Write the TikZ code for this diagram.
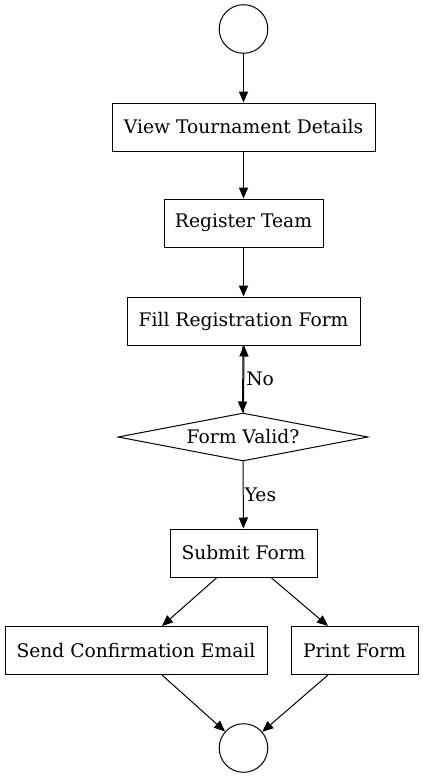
\documentclass[tikz,border=0pt]{standalone}
\usepackage{fontspec}
\setmainfont{DejaVu Serif}
\usetikzlibrary{shapes.geometric,arrows.meta}
\begin{document}
\begin{tikzpicture}[x=0.5pt,y=-0.5pt,
  every node/.style={font=\fontsize{9.35}{11}\selectfont, inner sep=0pt},
  box/.style={draw, line width=0.5pt, rectangle, minimum height=24pt},
  term/.style={draw, line width=0.5pt, circle, minimum size=24.3pt},
  dec/.style={draw, line width=0.5pt, diamond, aspect=5.2, minimum width=125pt, minimum height=24pt},
  conn/.style={line width=0.5pt, -{Triangle[length=5.5pt,width=4.6pt]}},
  lbl/.style={anchor=west}]
\useasboundingbox (0,0) rectangle (423,777);
\node[term] (start) at (243.5,29) {};
\node[box, minimum width=131.5pt] (view) at (243.5,127) {View Tournament Details};
\node[box, minimum width=79.5pt] (reg) at (243.5,223) {Register Team};
\node[box, minimum width=116.5pt] (fill) at (243.5,321) {Fill Registration Form};
\node[dec] (valid) at (243,437) {Form Valid?};
\node[box, minimum width=73.5pt] (submit) at (243.5,553) {Submit Form};
\node[box, minimum width=131pt] (send) at (136,650.5) {Send Confirmation Email};
\node[box, minimum width=63.5pt] (print) at (354.5,650.5) {Print Form};
\node[term] (end) at (243.5,748) {};
\draw[conn] (start) -- (view);
\draw[conn] (view) -- (reg);
\draw[conn] (reg) -- (fill);
\draw[conn] ([xshift=-0.25pt]fill.south) -- ([xshift=-0.25pt]valid.north);
\draw[conn] ([xshift=0.25pt]valid.north) -- node[lbl, xshift=1pt] (no) {No} ([xshift=0.25pt]fill.south);
\draw[conn] (valid) -- node[lbl, xshift=0.5pt] (yes) {Yes} (submit);
\draw[conn] ([xshift=-13.25pt]submit.south) -- ([xshift=13pt]send.north);
\draw[conn] ([xshift=13.75pt]submit.south) -- ([xshift=-13.25pt]print.north);
\draw[conn] ([xshift=13pt]send.south) -- (end);
\draw[conn] ([xshift=-13.25pt]print.south) -- (end);
\end{tikzpicture}
\end{document}
